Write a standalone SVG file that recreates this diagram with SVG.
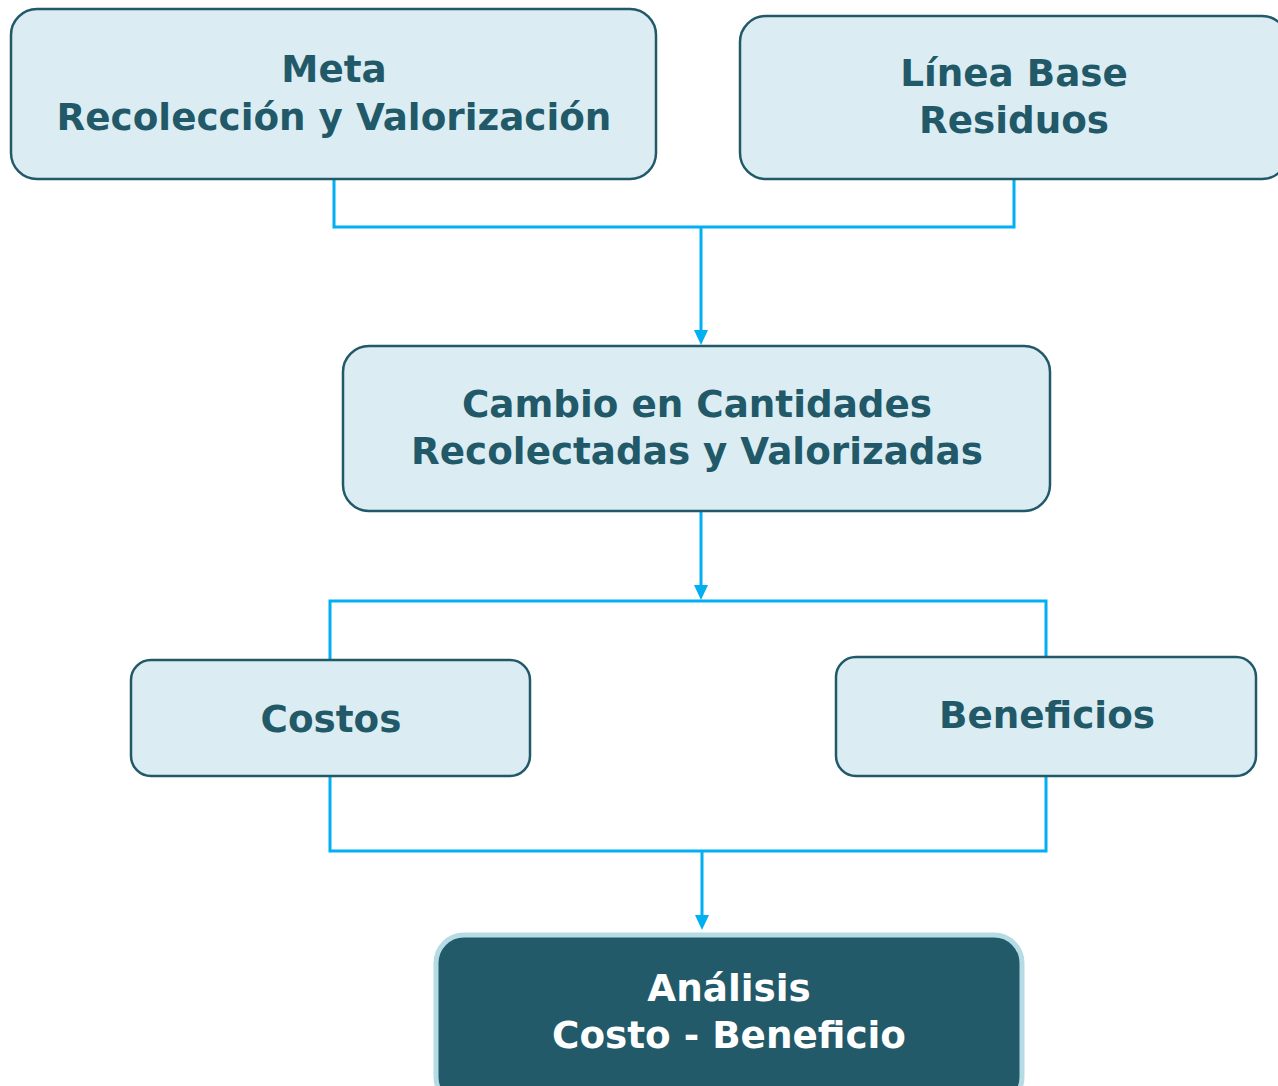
<svg xmlns="http://www.w3.org/2000/svg" width="1278" height="1086" viewBox="0 0 1278 1086">
<style>
.box{fill:#dbedf3;stroke:#215968;stroke-width:2.5}
.dark{fill:#225a6a;stroke:#b5dbe5;stroke-width:5}
.t{font-family:"DejaVu Sans","Verdana",sans-serif;font-weight:bold;font-size:37.3px;fill:#215968;text-anchor:middle}
.tw{fill:#ffffff}
.c{fill:none;stroke:#00b0f0;stroke-width:3}
.ah{fill:#00b0f0}
</style>
<rect width="1278" height="1086" fill="#ffffff"/>
<g id="connectors">
<polyline class="c" points="334,180 334,227 1014,227 1014,180"/>
<path d="M701,227 L701,332" class="c"/>
<path class="ah" d="M694,330 L708,330 L701,345 Z"/>
<path d="M701,512 L701,587" class="c"/>
<path class="ah" d="M694,585 L708,585 L701,600 Z"/>
<polyline class="c" points="330,660 330,601 1046,601 1046,657"/>
<polyline class="c" points="330,777 330,851 1046,851 1046,777"/>
<path d="M702,851 L702,916" class="c"/>
<path class="ah" d="M695,915 L709,915 L702,930 Z"/>
</g>
<g id="meta">
<rect class="box" x="11" y="9" width="645" height="170" rx="26"/>
<text class="t" x="334" y="82">Meta</text>
<text class="t" x="334" y="130">Recolección y Valorización</text>
</g>
<g id="linea-base">
<rect class="box" x="740" y="16" width="548" height="163" rx="26"/>
<text class="t" x="1014" y="86">Línea Base</text>
<text class="t" x="1014" y="133">Residuos</text>
</g>
<g id="cambio">
<rect class="box" x="343" y="346" width="707" height="165" rx="26"/>
<text class="t" x="697" y="417">Cambio en Cantidades</text>
<text class="t" x="697" y="464">Recolectadas y Valorizadas</text>
</g>
<g id="costos">
<rect class="box" x="131" y="660" width="399" height="116" rx="20"/>
<text class="t" x="331" y="732">Costos</text>
</g>
<g id="beneficios">
<rect class="box" x="836" y="657" width="420" height="119" rx="20"/>
<text class="t" x="1047" y="728">Beneficios</text>
</g>
<g id="analisis">
<rect class="dark" x="436" y="935" width="586" height="170" rx="28"/>
<text class="t tw" x="729" y="1001">Análisis</text>
<text class="t tw" x="729" y="1048">Costo - Beneficio</text>
</g>
</svg>
